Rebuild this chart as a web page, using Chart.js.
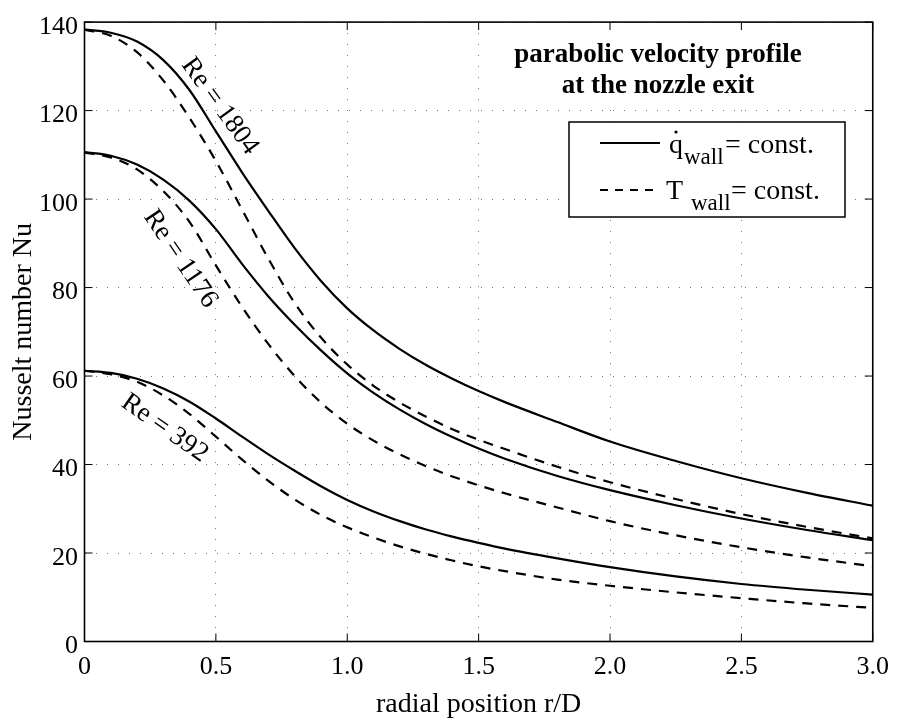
<!DOCTYPE html>
<html>
<head>
<meta charset="utf-8">
<script src="https://cdn.jsdelivr.net/npm/chart.js@4.4.0/dist/chart.umd.min.js"></script>
<style>
  html, body { margin: 0; padding: 0; background: #fff; }
</style>
</head>
<body>
<canvas id="nuChart" width="899" height="726"></canvas>
<script>
const radialPos = [0, 0.1, 0.2, 0.3, 0.4, 0.5, 0.6, 0.7, 0.8, 0.9, 1.0, 1.1, 1.2, 1.3, 1.4, 1.5, 1.6, 1.8, 2.0, 2.25, 2.5, 2.75, 3.0];

// Nusselt number, q_wall = const. (solid)
const nuQ1804 = [138.3, 137.6, 135.6, 131.4, 124.6, 115.3, 106.0, 97.3, 88.9, 81.5, 75.3, 70.3, 66.1, 62.5, 59.4, 56.6, 54.1, 49.6, 45.2, 40.8, 36.9, 33.6, 30.7];
const nuQ1176 = [110.6, 109.8, 107.8, 104.4, 99.6, 93.2, 85.3, 78.0, 71.6, 65.8, 60.6, 56.2, 52.4, 49.1, 46.2, 43.6, 41.3, 37.4, 34.2, 30.8, 27.8, 25.2, 22.9];
const nuQ392  = [61.2, 60.7, 59.4, 57.2, 54.2, 50.4, 46.3, 42.3, 38.6, 35.1, 32.0, 29.4, 27.2, 25.3, 23.7, 22.3, 21.0, 18.8, 16.8, 14.7, 13.0, 11.7, 10.6];

// Nusselt number, T_wall = const. (dashed)
const nuT1804 = [138.3, 136.9, 133.2, 126.8, 118.3, 108.6, 97.6, 86.5, 76.5, 68.7, 62.6, 57.8, 54.0, 50.8, 48.0, 45.6, 43.5, 39.5, 36.0, 32.2, 28.8, 25.9, 23.3];
const nuT1176 = [110.5, 109.4, 106.7, 101.8, 94.8, 85.0, 75.6, 67.2, 60.0, 54.0, 49.2, 45.4, 42.3, 39.6, 37.3, 35.3, 33.5, 30.3, 27.2, 24.0, 21.3, 19.0, 17.0];
const nuT392  = [61.2, 60.4, 58.7, 55.6, 51.4, 46.3, 41.1, 36.3, 32.1, 28.6, 25.8, 23.5, 21.5, 19.8, 18.3, 17.0, 15.9, 14.0, 12.6, 11.1, 9.8, 8.6, 7.6];

const xTickLabels = ['0', '0.5', '1.0', '1.5', '2.0', '2.5', '3.0'];
const yTickLabels = ['0', '20', '40', '60', '80', '100', '120', '140'];
const reLabels = ['Re = 1804', 'Re = 1176', 'Re = 392'];

const serif = "'Liberation Serif', 'Times New Roman', serif";

function toPoints(ys) {
    return radialPos.map((x, i) => ({ x: x, y: ys[i] }));
}

function curve(ys, dashed) {
    return {
        data: toPoints(ys),
        borderColor: '#000',
        borderWidth: 2.2,
        borderDash: dashed ? [10, 8] : [],
        pointRadius: 0,
        fill: false,
        cubicInterpolationMode: 'monotone'
    };
}

// where the Re labels sit (data units) and their slant
const reLabelPos = [
    { x: 0.515, y: 121.0, angle: 54 },
    { x: 0.365, y: 86.5, angle: 56 },
    { x: 0.305, y: 48.2, angle: 35 }
];

const decorPlugin = {
    id: 'decor',
    afterDatasetsDraw(chart) {
        const ctx = chart.ctx;
        const a = chart.chartArea;
        const xs = chart.scales.x;
        const ys = chart.scales.y;
        ctx.save();

        // title block with white background
        ctx.fillStyle = '#fff';
        ctx.fillRect(505, 31, 307, 70);
        ctx.fillStyle = '#000';
        ctx.font = 'bold 27px ' + serif;
        ctx.textAlign = 'center';
        ctx.textBaseline = 'alphabetic';
        ctx.fillText('parabolic velocity profile', 658, 62);
        ctx.fillText('at the nozzle exit', 658, 93);

        // legend box
        ctx.fillStyle = '#fff';
        ctx.fillRect(569, 122, 276, 95);
        ctx.strokeStyle = '#000';
        ctx.lineWidth = 1.5;
        ctx.strokeRect(569, 122, 276, 95);

        ctx.lineWidth = 2.2;
        ctx.beginPath();
        ctx.moveTo(600, 143);
        ctx.lineTo(660, 143);
        ctx.stroke();
        ctx.setLineDash([8, 7]);
        ctx.beginPath();
        ctx.moveTo(600, 190);
        ctx.lineTo(660, 190);
        ctx.stroke();
        ctx.setLineDash([]);

        ctx.fillStyle = '#000';
        ctx.textAlign = 'left';
        ctx.font = '28px ' + serif;
        ctx.fillText('q', 669, 153);
        ctx.beginPath();
        ctx.arc(676, 132, 1.6, 0, Math.PI * 2);
        ctx.fill();
        ctx.font = '23px ' + serif;
        ctx.fillText('wall', 684, 164);
        ctx.font = '28px ' + serif;
        ctx.fillText('= const.', 725, 153);

        ctx.fillText('T', 666, 199);
        ctx.font = '23px ' + serif;
        ctx.fillText('wall', 691, 210);
        ctx.font = '28px ' + serif;
        ctx.fillText('= const.', 731, 199);

        // Re labels along the curves
        ctx.font = '27px ' + serif;
        ctx.textAlign = 'center';
        ctx.textBaseline = 'middle';
        reLabelPos.forEach((p, i) => {
            ctx.save();
            ctx.translate(xs.getPixelForValue(p.x), ys.getPixelForValue(p.y));
            ctx.rotate(p.angle * Math.PI / 180);
            ctx.fillText(reLabels[i], 0, 0);
            ctx.restore();
        });

        // inward tick marks on all four sides
        ctx.strokeStyle = '#000';
        ctx.lineWidth = 1;
        xs.ticks.forEach(t => {
            const px = xs.getPixelForValue(t.value);
            ctx.beginPath();
            ctx.moveTo(px, a.bottom);
            ctx.lineTo(px, a.bottom - 8);
            ctx.moveTo(px, a.top);
            ctx.lineTo(px, a.top + 8);
            ctx.stroke();
        });
        ys.ticks.forEach(t => {
            const py = ys.getPixelForValue(t.value);
            ctx.beginPath();
            ctx.moveTo(a.left, py);
            ctx.lineTo(a.left + 8, py);
            ctx.moveTo(a.right, py);
            ctx.lineTo(a.right - 8, py);
            ctx.stroke();
        });

        // frame
        ctx.lineWidth = 1.6;
        ctx.strokeRect(a.left, a.top, a.right - a.left, a.bottom - a.top);
        ctx.restore();
    }
};

const ctx = document.getElementById('nuChart').getContext('2d');
const myChart = new Chart(ctx, {
    type: 'line',
    data: {
        datasets: [
            curve(nuQ1804, false),
            curve(nuT1804, true),
            curve(nuQ1176, false),
            curve(nuT1176, true),
            curve(nuQ392, false),
            curve(nuT392, true)
        ]
    },
    options: {
        responsive: false,
        animation: false,
        devicePixelRatio: 1,
        layout: { padding: { left: 0, right: 24.5, top: 18, bottom: 0 } },
        plugins: {
            legend: { display: false },
            tooltip: { enabled: false }
        },
        scales: {
            x: {
                type: 'linear',
                min: 0,
                max: 3,
                afterFit: s => { s.height = 84.5; },
                grid: { color: '#777', lineWidth: 1, drawTicks: false },
                border: { display: false, dash: [1, 10] },
                ticks: {
                    stepSize: 0.5,
                    padding: 10,
                    color: '#000',
                    font: { family: serif, size: 26 },
                    callback: v => xTickLabels[Math.round(v / 0.5)]
                },
                title: {
                    display: true,
                    text: 'radial position r/D',
                    color: '#000',
                    font: { family: serif, size: 28 },
                    padding: { top: 0, bottom: 5 }
                }
            },
            y: {
                type: 'linear',
                min: 0,
                max: 140,
                afterFit: s => { s.width = 84.5; },
                grid: { color: '#777', lineWidth: 1, drawTicks: false },
                border: { display: false, dash: [1, 10] },
                ticks: {
                    stepSize: 20,
                    padding: 6.5,
                    labelOffset: 5,
                    color: '#000',
                    font: { family: serif, size: 26 },
                    callback: v => yTickLabels[Math.round(v / 20)]
                },
                title: {
                    display: true,
                    text: 'Nusselt number Nu',
                    color: '#000',
                    font: { family: serif, size: 28 },
                    padding: { top: 7, bottom: 0 }
                }
            }
        }
    },
    plugins: [decorPlugin]
});
</script>
</body>
</html>
